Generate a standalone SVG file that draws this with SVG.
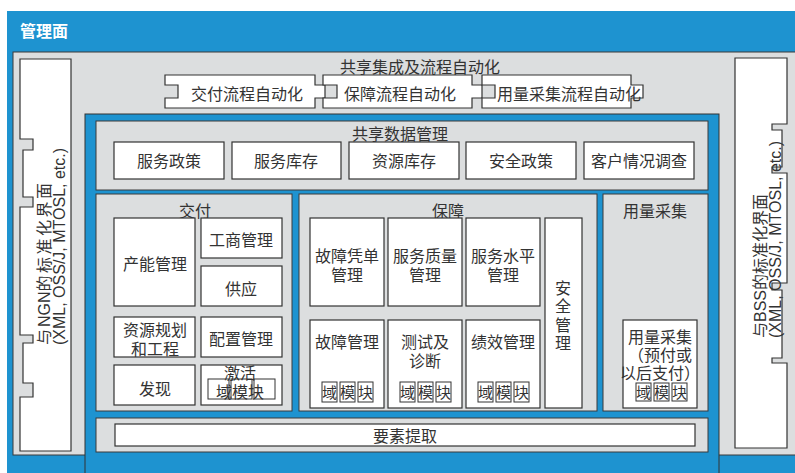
<svg xmlns="http://www.w3.org/2000/svg" width="795" height="473" viewBox="0 0 795 473">
<style>
.bg{fill:#1e93d0}
.gray{fill:#dcdedf;stroke:#3a3a3a;stroke-width:1}
.wb{fill:#ffffff;stroke:#333333;stroke-width:1.2}
.sm{fill:#ffffff;stroke:#333333;stroke-width:1}
.t{font-family:"Noto Sans CJK SC",sans-serif;font-size:16px;fill:#333333;text-anchor:middle}
.ts{font-family:"Noto Sans CJK SC",sans-serif;font-size:15px;fill:#333333;text-anchor:middle}
.rot{font-family:"Liberation Sans","Noto Sans CJK SC",sans-serif;font-size:16px;fill:#333333}
.title{font-family:"Noto Sans CJK SC",sans-serif;font-size:16px;font-weight:bold;fill:#ffffff}
</style>
<rect x="0" y="0" width="795" height="473" fill="#ffffff"/>
<rect class="bg" x="7" y="11" width="800" height="470"/>
<text class="title" x="20" y="37">管理面</text>
<rect class="gray" x="13" y="52" width="790" height="403"/>
<rect class="bg" x="85" y="114" width="634" height="370" stroke="#333333" stroke-width="1"/>

<g id="ngn-interface">
<path class="wb" d="M20,59 H71 V451 H20 V397 H33 V383 H23 V343 H33 V335 H20 V207 H33 V197 H23 V150 H33 V139 H20 Z"/>
<text class="rot" transform="translate(50,345) rotate(-90)"><tspan letter-spacing="2">与</tspan>NGN<tspan letter-spacing="2.5">的标准化界面</tspan></text>
<text class="rot" transform="translate(65,345) rotate(-90)">(XML, OSS/J, MTOSL, etc.)</text>
</g>

<g id="bss-interface">
<path class="wb" d="M735,58 H787 V124 H772 V130 H782 V167 H772 V173 H787 V283 H772 V290 H782 V358 H772 V363 H787 V448 H735 Z"/>
<text class="rot" transform="translate(766,338) rotate(-90)">与BSS的标准化界面</text>
<text class="rot" transform="translate(781,338) rotate(-90)">(XML, OSS/J, MTOSL, etc.)</text>
</g>

<g id="process-automation">
<text class="t" x="420" y="73">共享集成及流程自动化</text>
<g id="delivery-flow">
<path class="wb" d="M165,75 H315 V85 H325 V98 H315 V108 H165 V98 H178 V85 H165 Z"/>
<text class="t" x="247" y="100">交付流程自动化</text>
</g>
<g id="assurance-flow">
<path class="wb" d="M323,75 H472 V85 H482 V98 H472 V108 H323 V98 H337 V85 H323 Z"/>
<text class="t" x="400" y="100">保障流程自动化</text>
</g>
<g id="usage-flow">
<path class="wb" d="M482,75 H631 V85 H643 V98 H631 V108 H482 V98 H495 V85 H482 Z"/>
<text class="t" x="569" y="100">用量采集流程自动化</text>
</g>
</g>

<g id="shared-data">
<rect class="gray" x="96" y="121" width="612" height="69"/>
<text class="t" x="400" y="140">共享数据管理</text>
<g id="svc-policy"><rect class="wb" x="114" y="142" width="110" height="37"/><text class="t" x="169" y="167">服务政策</text></g>
<g id="svc-inventory"><rect class="wb" x="232" y="142" width="109" height="37"/><text class="t" x="286" y="167">服务库存</text></g>
<g id="res-inventory"><rect class="wb" x="349" y="142" width="110" height="37"/><text class="t" x="404" y="167">资源库存</text></g>
<g id="sec-policy"><rect class="wb" x="466" y="142" width="110" height="37"/><text class="t" x="521" y="167">安全政策</text></g>
<g id="customer-survey"><rect class="wb" x="584" y="142" width="110" height="37"/><text class="t" x="639" y="167">客户情况调查</text></g>
</g>

<g id="delivery">
<rect class="gray" x="96" y="194" width="196" height="217"/>
<text class="t" x="195" y="217">交付</text>
<g id="capacity"><rect class="wb" x="114" y="218" width="81" height="88"/><text class="t" x="155" y="270">产能管理</text></g>
<g id="business"><rect class="wb" x="201" y="218" width="81" height="40"/><text class="t" x="241" y="246">工商管理</text></g>
<g id="supply"><rect class="wb" x="201" y="266" width="81" height="40"/><text class="t" x="241" y="295">供应</text></g>
<g id="planning"><rect class="wb" x="114" y="317" width="81" height="40"/><text class="t" x="155" y="336">资源规划</text><text class="t" x="155" y="355">和工程</text></g>
<g id="config"><rect class="wb" x="201" y="317" width="81" height="40"/><text class="t" x="241" y="345">配置管理</text></g>
<g id="discovery"><rect class="wb" x="114" y="365" width="81" height="40"/><text class="t" x="155" y="395">发现</text></g>
<g id="activation"><rect class="wb" x="201" y="365" width="81" height="40"/>
<rect class="sm" x="208" y="379" width="21" height="20"/><rect class="sm" x="231" y="379" width="21" height="20"/><rect class="sm" x="254" y="379" width="21" height="20"/>
<text class="t" x="240" y="379">激活</text><text class="t" x="240" y="398">域模块</text></g>
</g>

<g id="assurance">
<rect class="gray" x="299" y="194" width="298" height="217"/>
<text class="t" x="448" y="217">保障</text>
<g id="trouble-ticket"><rect class="wb" x="310" y="218" width="74" height="88"/><text class="t" x="347" y="262">故障凭单</text><text class="t" x="347" y="281">管理</text></g>
<g id="qos"><rect class="wb" x="388" y="218" width="74" height="88"/><text class="t" x="425" y="262">服务质量</text><text class="t" x="425" y="281">管理</text></g>
<g id="sla"><rect class="wb" x="466" y="218" width="74" height="88"/><text class="t" x="503" y="262">服务水平</text><text class="t" x="503" y="281">管理</text></g>
<g id="fault"><rect class="wb" x="310" y="320" width="74" height="88"/><text class="t" x="347" y="348">故障管理</text>
<rect class="sm" x="322" y="382" width="15" height="20"/><rect class="sm" x="340" y="382" width="15" height="20"/><rect class="sm" x="358" y="382" width="15" height="20"/>
<text class="ts" x="329.5" y="398">域</text><text class="ts" x="347.5" y="398">模</text><text class="ts" x="365.5" y="398">块</text></g>
<g id="test"><rect class="wb" x="388" y="320" width="74" height="88"/><text class="t" x="425" y="348">测试及</text><text class="t" x="425" y="367">诊断</text>
<rect class="sm" x="400" y="382" width="15" height="20"/><rect class="sm" x="418" y="382" width="15" height="20"/><rect class="sm" x="436" y="382" width="15" height="20"/>
<text class="ts" x="407.5" y="398">域</text><text class="ts" x="425.5" y="398">模</text><text class="ts" x="443.5" y="398">块</text></g>
<g id="performance"><rect class="wb" x="466" y="320" width="74" height="88"/><text class="t" x="503" y="348">绩效管理</text>
<rect class="sm" x="478" y="382" width="15" height="20"/><rect class="sm" x="496" y="382" width="15" height="20"/><rect class="sm" x="514" y="382" width="15" height="20"/>
<text class="ts" x="485.5" y="398">域</text><text class="ts" x="503.5" y="398">模</text><text class="ts" x="521.5" y="398">块</text></g>
<g id="security"><rect class="wb" x="545" y="218" width="37" height="190"/>
<text class="t" x="563" y="294">安</text><text class="t" x="563" y="312">全</text><text class="t" x="563" y="331">管</text><text class="t" x="563" y="349">理</text></g>
</g>

<g id="usage">
<rect class="gray" x="603" y="194" width="105" height="217"/>
<text class="t" x="655" y="217">用量采集</text>
<g id="usage-collect"><rect class="wb" x="623" y="320" width="74" height="88"/>
<text class="t" x="660" y="343">用量采集</text><text class="t" x="660" y="361">（预付或</text><text class="t" x="660" y="379">以后支付）</text>
<rect class="sm" x="636" y="383" width="15" height="18"/><rect class="sm" x="654" y="383" width="15" height="18"/><rect class="sm" x="672" y="383" width="15" height="18"/>
<text class="ts" x="643.5" y="398">域</text><text class="ts" x="661.5" y="398">模</text><text class="ts" x="679.5" y="398">块</text></g>
</g>

<g id="extraction">
<rect class="gray" x="96" y="418" width="612" height="34"/>
<rect class="wb" x="115" y="424" width="580" height="22"/>
<text class="t" x="405" y="442">要素提取</text>
</g>
<g id="connectors"></g>
</svg>
